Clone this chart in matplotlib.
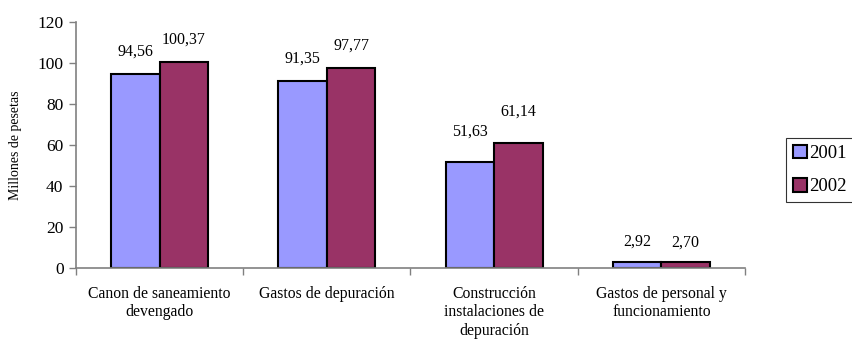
import matplotlib
matplotlib.use("Agg")
import matplotlib.pyplot as plt
import numpy as np

plt.rcParams['font.family'] = ['Liberation Serif', 'DejaVu Serif']

categories = ["Canon de saneamiento\ndevengado", "Gastos de depuración",
              "Construcción\ninstalaciones de\ndepuración", "Gastos de personal y\nfuncionamiento"]
series_names = ["2001", "2002"]
values_2001 = [94.56, 91.35, 51.63, 2.92]
values_2002 = [100.37, 97.77, 61.14, 2.70]
labels_2001 = ["94,56", "91,35", "51,63", "2,92"]
labels_2002 = ["100,37", "97,77", "61,14", "2,70"]
colors = ["#9999FF", "#993366"]
label_offsets_px = [23, 22, 31, 20]  # style: label distance above bar per category

fig = plt.figure(figsize=(8.52, 3.42), dpi=100)
ax = fig.add_axes([76/852, 1-268/342, (745-76)/852, (268-22)/342])

x = np.arange(len(categories))
w = 0.29
b1 = ax.bar(x - w/2, values_2001, w, color=colors[0], edgecolor='black', linewidth=1.5, label=series_names[0])
b2 = ax.bar(x + w/2, values_2002, w, color=colors[1], edgecolor='black', linewidth=1.5, label=series_names[1])

for rects, labs in ((b1, labels_2001), (b2, labels_2002)):
    for r, lab, off in zip(rects, labs, label_offsets_px):
        ax.annotate(lab, (r.get_x() + r.get_width()/2, r.get_height()),
                    xytext=(0, off * 0.72), textcoords='offset points',
                    ha='center', va='center', fontsize=11.5)

ax.set_xlim(-0.5, len(categories) - 0.5)
ax.set_ylim(0, 120)
ax.set_yticks(np.arange(0, 121, 20))
ax.set_yticklabels([str(v) for v in range(0, 121, 20)], fontsize=12.5)
ax.set_xticks(np.arange(-0.5, len(categories), 1.0))
ax.set_xticklabels([])
ax.set_xticks(x, minor=True)
ax.set_xticklabels(categories, minor=True, fontsize=11.3, linespacing=1.2)
ax.tick_params(axis='x', which='minor', length=0, pad=13)
ax.tick_params(axis='x', which='major', length=5, direction='out', color='#808080', width=1)
ax.tick_params(axis='y', length=5, direction='out', color='#808080', width=1, pad=4)
for s in ('top', 'right'):
    ax.spines[s].set_visible(False)
for s in ('left', 'bottom'):
    ax.spines[s].set_color('#808080')
    ax.spines[s].set_linewidth(1.2)

fig.text(16/852, 1-145/342, "Millones de pesetas", rotation=90, ha='center', va='center', fontsize=10)

leg = fig.legend(handles=[b1, b2], labels=series_names, loc='upper left',
                 bbox_to_anchor=(786/852, 1-138/342), fontsize=13.5, frameon=True,
                 fancybox=False, edgecolor='black', handlelength=0.75, handleheight=0.75,
                 handletextpad=0.15, borderpad=0.35, labelspacing=0.85, borderaxespad=0)
leg.get_frame().set_linewidth(0.8)

fig.savefig("out.png", dpi=100)
